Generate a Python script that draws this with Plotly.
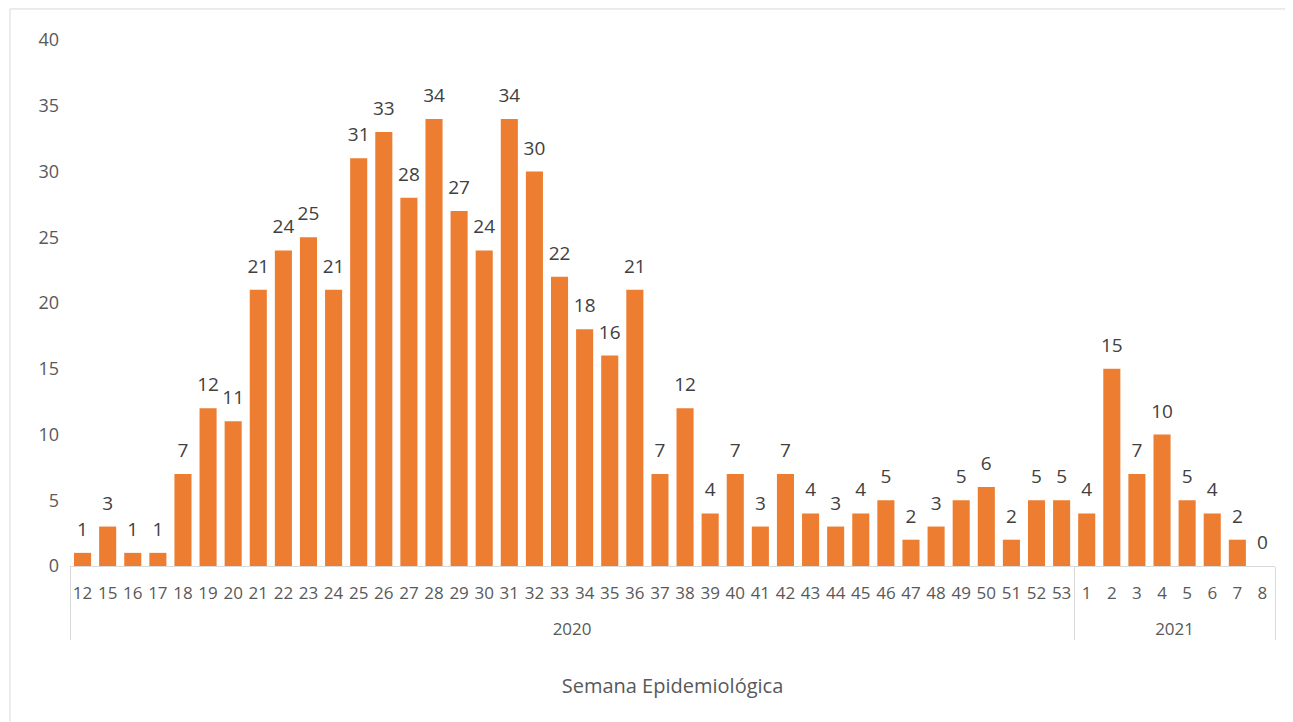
import plotly.graph_objects as go

# Casos por semana epidemiológica
# (leading <br> pushes the year row down, as in the Excel chart)
years = ["<br>2020"] * 40 + ["<br>2021"] * 8
weeks = ["12", "15", "16", "17"] + [str(w) for w in range(18, 54)] + [str(w) for w in range(1, 9)]
cases = [1, 3, 1, 1, 7, 12, 11, 21, 24, 25, 21, 31, 33, 28, 34, 27, 24, 34, 30, 22,
         18, 16, 21, 7, 12, 4, 7, 3, 7, 4, 3, 4, 5, 2, 3, 5, 6, 2, 5, 5,
         4, 15, 7, 10, 5, 4, 2, 0]

bar_color = "#ED7D31"
grid_grey = "#D9D9D9"
font_name = "Open Sans"

fig = go.Figure()
fig.add_trace(go.Bar(
    x=[years, weeks],
    y=cases,
    marker=dict(color=bar_color, line=dict(width=0)),
    hoverinfo="y",
))
# data labels, lifted a little above the bars like in Excel
fig.add_trace(go.Scatter(
    x=[years, weeks],
    y=cases,
    mode="markers+text",
    marker=dict(size=18, color="rgba(0,0,0,0)"),
    text=[str(v) for v in cases],
    textposition="top center",
    textfont=dict(family=font_name, size=19, color="#404040"),
    hoverinfo="skip",
    cliponaxis=False,
))

# page body has an 8px margin, so the figure is 8px smaller than the window
fig.update_layout(
    width=1285,
    height=714,
    margin=dict(l=62, r=18, t=32, b=156),
    paper_bgcolor="white",
    plot_bgcolor="white",
    bargap=0.32,
    showlegend=False,
    font=dict(family=font_name, color="#595959"),
)

fig.update_xaxes(
    type="multicategory",
    range=[-0.5, len(cases) - 0.5],
    showline=True,
    linecolor=grid_grey,
    linewidth=1,
    ticks="",
    tickangle=0,
    showgrid=False,
    tickfont=dict(family=font_name, size=17, color="#595959"),
    ticklabelstandoff=12,
    showdividers=True,
    dividercolor=grid_grey,
    dividerwidth=1,
    title=dict(text="Semana Epidemiológica",
               font=dict(family=font_name, size=20, color="#595959"),
               standoff=40),
)

fig.update_yaxes(
    range=[0, 40],
    dtick=5,
    showgrid=False,
    zeroline=False,
    showline=False,
    ticks="",
    tickfont=dict(family=font_name, size=18, color="#595959"),
    ticklabelstandoff=10,
)

# chart frame
fig.add_shape(type="rect", xref="paper", yref="paper",
              x0=-0.0498, x1=1.2, y0=-0.5, y1=1.059,
              line=dict(color=grid_grey, width=1), fillcolor="rgba(0,0,0,0)",
              layer="below")

fig.write_html("out.html")
